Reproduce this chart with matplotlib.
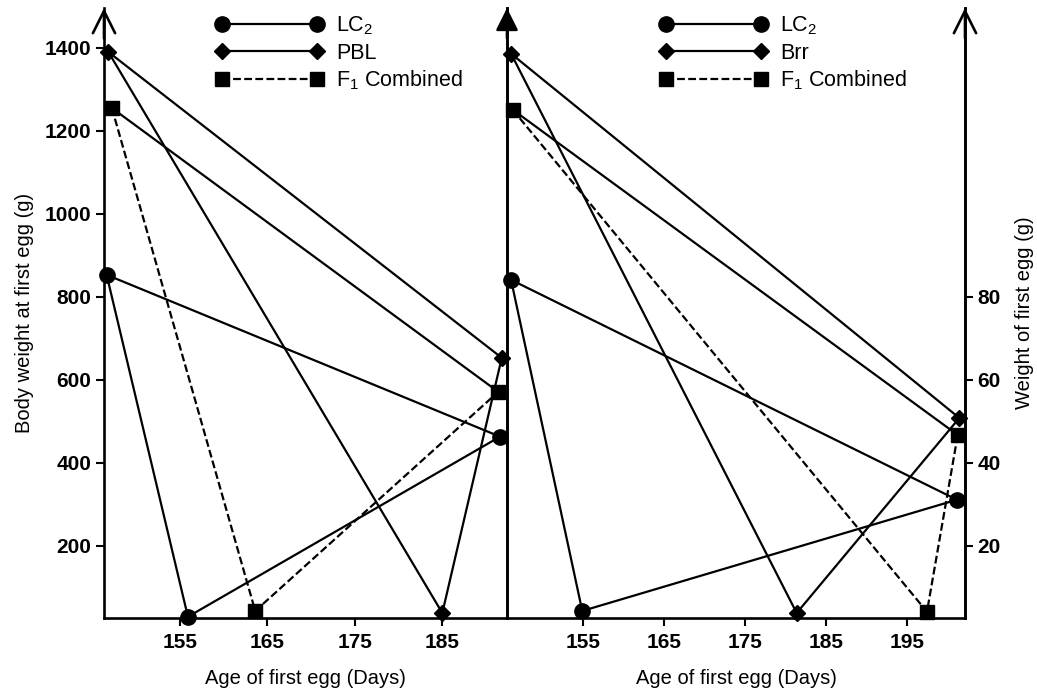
import matplotlib.pyplot as plt

plt.rcParams["font.family"] = ["Liberation Sans", "DejaVu Sans"]
plt.rcParams["mathtext.default"] = "regular"

# left panel (LC2 / PBL / F1)
l_lc2_age = [146.6, 155.9, 191.6]
l_lc2_bw = [853, 29, 463]
l_pbl_age = [146.8, 185.0, 191.8]
l_pbl_bw = [1390, 38, 653]
l_f1_age = [147.2, 163.6, 191.4]
l_f1_bw = [1255, 43, 571]

# right panel (LC2 / Brr / F1)
r_lc2_age = [146.1, 154.9, 201.2]
r_lc2_bw = [841, 43, 311]
r_brr_age = [146.1, 181.4, 201.5]
r_brr_bw = [1386, 38, 508]
r_f1_age = [146.3, 197.5, 201.3]
r_f1_bw = [1251, 41, 467]

left_xticks = [155, 165, 175, 185]
right_xticks = [155, 165, 175, 185, 195]
yticks = [200, 400, 600, 800, 1000, 1200, 1400]
egg_ticks = [20, 40, 60, 80]

YLIM = (26, 1496)
LW = 1.6
SPW = 1.9
TICKFS = 15
LABFS = 14.5

fig = plt.figure(figsize=(10.37, 6.94), dpi=100)
ax1 = fig.add_axes([104/1037, 76/694, 403/1037, 610/694])
ax2 = fig.add_axes([507/1037, 76/694, 458/1037, 610/694])
ax2.patch.set_visible(False)


def draw_series(ax, x, y, marker, ms, dashed, label):
    ls = (0, (3.5, 1.5)) if dashed else "-"
    ax.plot(x, y, color="black", lw=LW, ls=ls, marker=marker, ms=ms,
            label=label, clip_on=False, zorder=3)
    # closing segment is solid
    ax.plot([x[0], x[-1]], [y[0], y[-1]], color="black", lw=LW, zorder=2)


draw_series(ax1, l_lc2_age, l_lc2_bw, "o", 11, False, "LC$_2$")
draw_series(ax1, l_pbl_age, l_pbl_bw, "D", 8, False, "PBL")
draw_series(ax1, l_f1_age, l_f1_bw, "s", 10.5, True, "F$_1$ Combined")

draw_series(ax2, r_lc2_age, r_lc2_bw, "o", 11, False, "LC$_2$")
draw_series(ax2, r_brr_age, r_brr_bw, "D", 8, False, "Brr")
draw_series(ax2, r_f1_age, r_f1_bw, "s", 10.5, True, "F$_1$ Combined")

ax1.set_xlim(146.3, 192.4)
ax2.set_xlim(145.6, 202.2)
ax1.set_xticks(left_xticks)
ax2.set_xticks(right_xticks)

for ax in (ax1, ax2):
    ax.set_ylim(*YLIM)
    ax.spines["top"].set_visible(False)
    for s in ("left", "right", "bottom"):
        ax.spines[s].set_linewidth(SPW)
    ax.tick_params(axis="x", direction="out", length=6, width=1.5, labelsize=TICKFS, pad=5)
    for t in ax.get_xticklabels():
        t.set_fontweight("bold")
    ax.set_xlabel("Age of first egg (Days)", fontsize=LABFS, labelpad=12)

ax1.set_yticks(yticks)
ax1.tick_params(axis="y", direction="out", length=6, width=1.5, labelsize=TICKFS, pad=3, right=False)
for t in ax1.get_yticklabels():
    t.set_fontweight("bold")
ax1.set_ylabel("Body weight at first egg (g)", fontsize=LABFS, labelpad=8)

ax2.set_yticks([])

ax3 = ax2.twinx()
ax3.set_ylim(YLIM[0] / 10, YLIM[1] / 10)
ax3.set_yticks(egg_ticks)
ax3.tick_params(axis="y", direction="out", length=6, width=1.5, labelsize=TICKFS, pad=3)
for t in ax3.get_yticklabels():
    t.set_fontweight("bold")
for s in ("top", "left", "bottom"):
    ax3.spines[s].set_visible(False)
ax3.spines["right"].set_linewidth(SPW)
ax3.set_ylabel("Weight of first egg (g)", fontsize=LABFS, labelpad=10)

# arrows on the vertical axes
arr_open = dict(arrowstyle="->", lw=SPW, color="black", mutation_scale=40,
                shrinkA=0, shrinkB=0)
arr_fill = dict(arrowstyle="-|>", lw=SPW, color="black", mutation_scale=34,
                shrinkA=0, shrinkB=0)
ax1.annotate("", xy=(0, 1.0), xytext=(0, 0.95), xycoords="axes fraction",
             arrowprops=arr_open)
ax1.annotate("", xy=(1, 1.0), xytext=(1, 0.95), xycoords="axes fraction",
             arrowprops=arr_fill)
ax2.annotate("", xy=(1, 1.0), xytext=(1, 0.95), xycoords="axes fraction",
             arrowprops=arr_open)

leg_kw = dict(frameon=False, numpoints=2, handlelength=5.0, fontsize=15.5,
              handletextpad=0.6, labelspacing=0.24, borderaxespad=0)
ax1.legend(loc="upper left", bbox_to_anchor=(0.255, 1.003), **leg_kw)
ax2.legend(loc="upper left", bbox_to_anchor=(0.315, 1.003), **leg_kw)

plt.savefig("out.png", dpi=100)
